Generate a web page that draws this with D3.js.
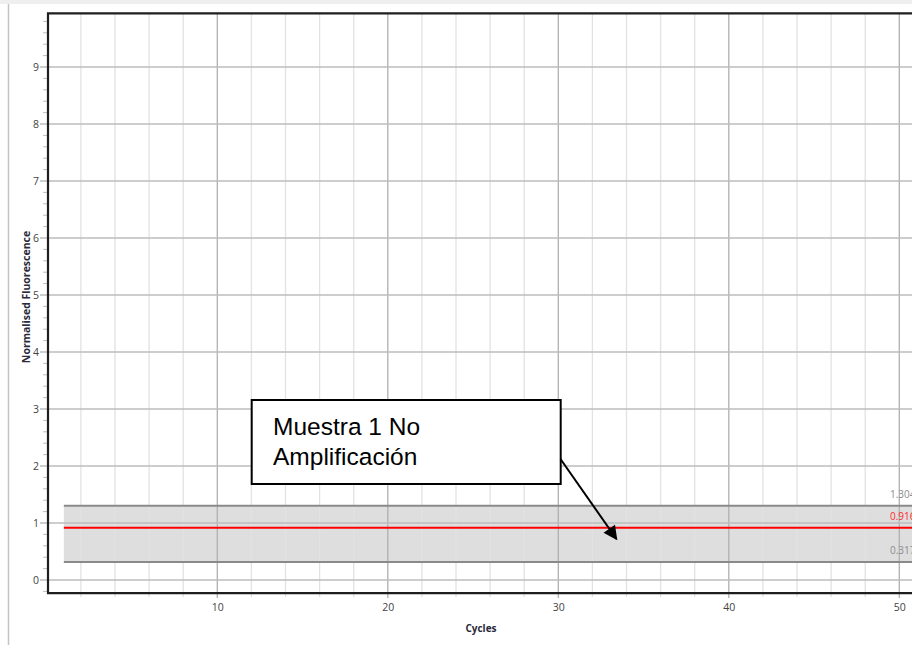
<!DOCTYPE html>
<html><head><meta charset="utf-8">
<script src="https://cdn.jsdelivr.net/npm/d3@7"></script>
<style>
html,body{margin:0;padding:0;background:#fff;overflow:hidden}
svg{display:block}
</style></head>
<body>
<svg id="chart" width="912" height="645"></svg>
<script>
// ---- data ----
const xTickValues = [10, 20, 30, 40, 50];
const yTickValues = [0, 1, 2, 3, 4, 5, 6, 7, 8, 9];
const thresholdUpper = 1.304;
const thresholdMain = 0.916;
const thresholdLower = 0.317;
const thresholdLabels = ["1.304", "0.916", "0.317"];
const bandStartCycle = 1;
const annotationLines = ["Muestra 1 No", "Amplificación"];
const xTitle = "Cycles";
const yTitle = "Normalised Fluorescence";

const svg = d3.select("#chart");
const W = 912, H = 645;

const x = d3.scaleLinear().domain([0, 50]).range([46.8, 899.3]);
const y = d3.scaleLinear().domain([0, 9]).range([580, 67]);
const xMin = x.invert(48), xMax = x.invert(960);
const yMin = -0.23, yMax = 9.94;
const pLeft = x(xMin), pRight = x(xMax), pTop = y(yMax), pBottom = y(yMin);

// outer frame bits
svg.append("rect").attr("x", 0).attr("y", 0).attr("width", W).attr("height", 4).attr("fill", "#efefef");
svg.append("line").attr("x1", 8.5).attr("x2", 8.5).attr("y1", 4).attr("y2", H).attr("stroke", "#c4c4c4").attr("stroke-width", 1.5);

// threshold band (under gridlines)
svg.append("rect")
  .attr("x", x(bandStartCycle)).attr("y", y(thresholdUpper))
  .attr("width", pRight - x(bandStartCycle)).attr("height", y(thresholdLower) - y(thresholdUpper))
  .attr("fill", "#dedede");

// vertical gridlines every 2 cycles
const xGrid = d3.range(2, 56, 2);
svg.append("g").selectAll("line").data(xGrid).join("line")
  .attr("x1", d => x(d)).attr("x2", d => x(d))
  .attr("y1", pTop).attr("y2", d => pBottom + (d % 10 === 0 ? 5 : 4))
  .attr("stroke", d => d % 10 === 0 ? "#b0b0b0" : "#e2e2e2")
  .attr("stroke-width", 1.3);

// horizontal gridlines at integers
svg.append("g").selectAll("line").data(yTickValues).join("line")
  .attr("x1", pLeft - 8).attr("x2", pRight)
  .attr("y1", d => y(d)).attr("y2", d => y(d))
  .attr("stroke", "#bdbdbd").attr("stroke-width", 1.3);

// minor y ticks
const yMinor = d3.range(-0.2, 9.95, 0.2).filter(v => Math.abs(v - Math.round(v)) > 0.01);
svg.append("g").selectAll("line").data(yMinor).join("line")
  .attr("x1", pLeft - 5).attr("x2", pLeft)
  .attr("y1", d => y(d)).attr("y2", d => y(d))
  .attr("stroke", "#bdbdbd").attr("stroke-width", 1);

// threshold lines
[thresholdUpper, thresholdLower].forEach(v => {
  svg.append("line").attr("x1", x(bandStartCycle)).attr("x2", pRight)
    .attr("y1", y(v)).attr("y2", y(v)).attr("stroke", "#8a8a8a").attr("stroke-width", 2);
});
svg.append("line").attr("x1", x(bandStartCycle)).attr("x2", pRight)
  .attr("y1", y(thresholdMain)).attr("y2", y(thresholdMain)).attr("stroke", "#ff0000").attr("stroke-width", 2);

// threshold labels (clipped at the right edge as in the reference)
const thrVals = [thresholdUpper, thresholdMain, thresholdLower];
const thrColors = ["#8c8c8c", "#ff2a2a", "#8c8c8c"];
svg.append("g").selectAll("text").data(thrVals).join("text")
  .attr("x", 890).attr("y", d => y(d) - 8)
  .attr("font-family", "'Open Sans', sans-serif").attr("font-size", 10)
  .attr("fill", (d, i) => thrColors[i])
  .text((d, i) => thresholdLabels[i]);

// axes via d3
const yAxis = d3.axisLeft(y).tickValues(yTickValues).tickFormat(d3.format("d")).tickSize(0).tickPadding(9);
const gy = svg.append("g").attr("transform", `translate(${pLeft},0)`).call(yAxis);
gy.select(".domain").remove();
gy.selectAll("text").attr("font-family", "'Open Sans', sans-serif").attr("font-size", 10.5).attr("fill", "#444");

const xAxis = d3.axisBottom(x).tickValues(xTickValues).tickFormat(d3.format("d")).tickSize(0).tickPadding(10);
const gx = svg.append("g").attr("transform", `translate(0,${pBottom})`).call(xAxis);
gx.select(".domain").remove();
gx.selectAll("text").attr("font-family", "'Open Sans', sans-serif").attr("font-size", 10.5).attr("fill", "#444");

// plot border
svg.append("path")
  .attr("d", `M${pRight},${pTop}H${pLeft}V${pBottom}H${pRight}`)
  .attr("fill", "none").attr("stroke", "#1e1e1e").attr("stroke-width", 2.2);

// axis titles
svg.append("text").attr("x", 481).attr("y", 632).attr("text-anchor", "middle")
  .attr("font-family", "'Open Sans', sans-serif").attr("font-weight", "bold").attr("font-size", 10)
  .attr("fill", "#2a2a3a").text(xTitle);
svg.append("text").attr("transform", "translate(30,297) rotate(-90)").attr("text-anchor", "middle")
  .attr("font-family", "'Open Sans', sans-serif").attr("font-weight", "bold").attr("font-size", 10.5)
  .attr("fill", "#2a2a3a").text(yTitle);

// annotation
svg.append("rect").attr("x", 251.7).attr("y", 400).attr("width", 309).attr("height", 84)
  .attr("fill", "#fff").attr("stroke", "#000").attr("stroke-width", 2);
svg.append("g").selectAll("text").data(annotationLines).join("text")
  .attr("x", 273).attr("y", (d, i) => 435 + i * 30)
  .attr("font-family", "'Liberation Sans', Arial, sans-serif").attr("font-size", 24.5).attr("fill", "#000")
  .text(d => d);

svg.append("defs").append("marker").attr("id", "ah").attr("viewBox", "0 0 10 10")
  .attr("refX", 9).attr("refY", 5)
  .attr("markerUnits", "userSpaceOnUse").attr("orient", "auto")
  .attr("markerWidth", 16).attr("markerHeight", 14)
  .append("path").attr("d", "M0,0L10,5L0,10z").attr("fill", "#000");
svg.append("line").attr("x1", 560.5).attr("y1", 459).attr("x2", 616.5).attr("y2", 539)
  .attr("stroke", "#000").attr("stroke-width", 2).attr("marker-end", "url(#ah)");
</script>
</body></html>
